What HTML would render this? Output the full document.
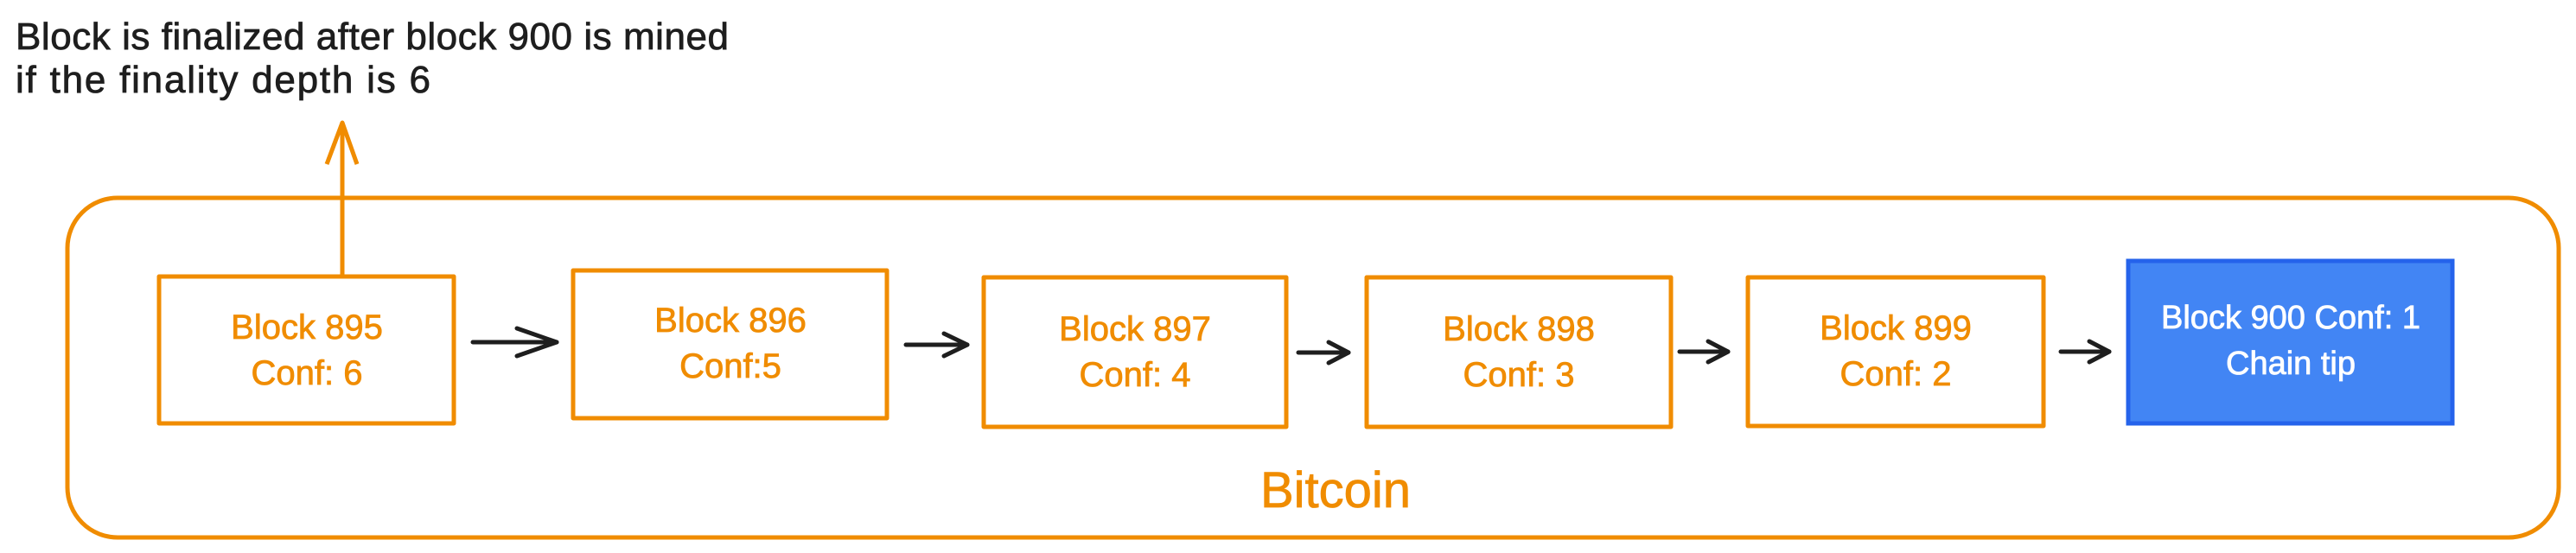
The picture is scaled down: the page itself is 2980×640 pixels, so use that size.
<!DOCTYPE html>
<html><head><meta charset="utf-8"><style>
html,body{margin:0;padding:0;background:#fff;width:2980px;height:640px;overflow:hidden}
svg{display:block}
text{font-family:"Liberation Sans",sans-serif}
</style></head><body>
<svg width="2980" height="640" viewBox="0 0 2980 640" xmlns="http://www.w3.org/2000/svg">
<g fill="none" stroke="#f08c00" stroke-width="5" stroke-linejoin="round">
<rect x="78" y="229" width="2882" height="393" rx="58"/>
<rect x="184" y="320" width="341" height="170"/>
<rect x="663" y="313" width="363" height="171"/>
<rect x="1138" y="321" width="350" height="173"/>
<rect x="1581" y="321" width="352" height="173"/>
<rect x="2022" y="321" width="342" height="172"/>
<line x1="396" y1="320" x2="396" y2="145"/>
<polyline points="378,190 396,142 413,190"/>
</g>
<rect x="2462" y="302" width="375" height="188" fill="#4285f4" stroke="#2563eb" stroke-width="5"/>
<g fill="none" stroke="#1e1e1e" stroke-width="5" stroke-linecap="round" stroke-linejoin="round">
<line x1="547" y1="396" x2="644" y2="396"/><polyline points="598,380 644,396 598,412"/>
<line x1="1048" y1="399" x2="1119" y2="399"/><polyline points="1092,386 1119,399 1092,412"/>
<line x1="1502" y1="408" x2="1560" y2="408"/><polyline points="1537,396 1560,408 1537,420"/>
<line x1="1943" y1="407" x2="1999" y2="407"/><polyline points="1976,395 1999,407 1976,419"/>
<line x1="2384" y1="407" x2="2440" y2="407"/><polyline points="2417,395 2440,407 2417,419"/>
</g>
<g fill="#1e1e1e" font-size="44" stroke="#1e1e1e" stroke-width="0.8">
<text x="18" y="57" textLength="825">Block is finalized after block 900 is mined</text>
<text x="18" y="107" textLength="480">if the finality depth is 6</text>
</g>
<g fill="#f08c00" font-size="40" text-anchor="middle" stroke="#f08c00" stroke-width="0.8">
<text x="355" y="392">Block 895</text><text x="355" y="445">Conf: 6</text>
<text x="845" y="384">Block 896</text><text x="845" y="437">Conf:5</text>
<text x="1313" y="394">Block 897</text><text x="1313" y="447">Conf: 4</text>
<text x="1757" y="394">Block 898</text><text x="1757" y="447">Conf: 3</text>
<text x="2193" y="393">Block 899</text><text x="2193" y="446">Conf: 2</text>
<text x="1545" y="587" font-size="58">Bitcoin</text>
</g>
<g fill="#ffffff" font-size="38" text-anchor="middle" stroke="#ffffff" stroke-width="0.8">
<text x="2650" y="380">Block 900 Conf: 1</text>
<text x="2650" y="433">Chain tip</text>
</g>
</svg>
</body></html>
